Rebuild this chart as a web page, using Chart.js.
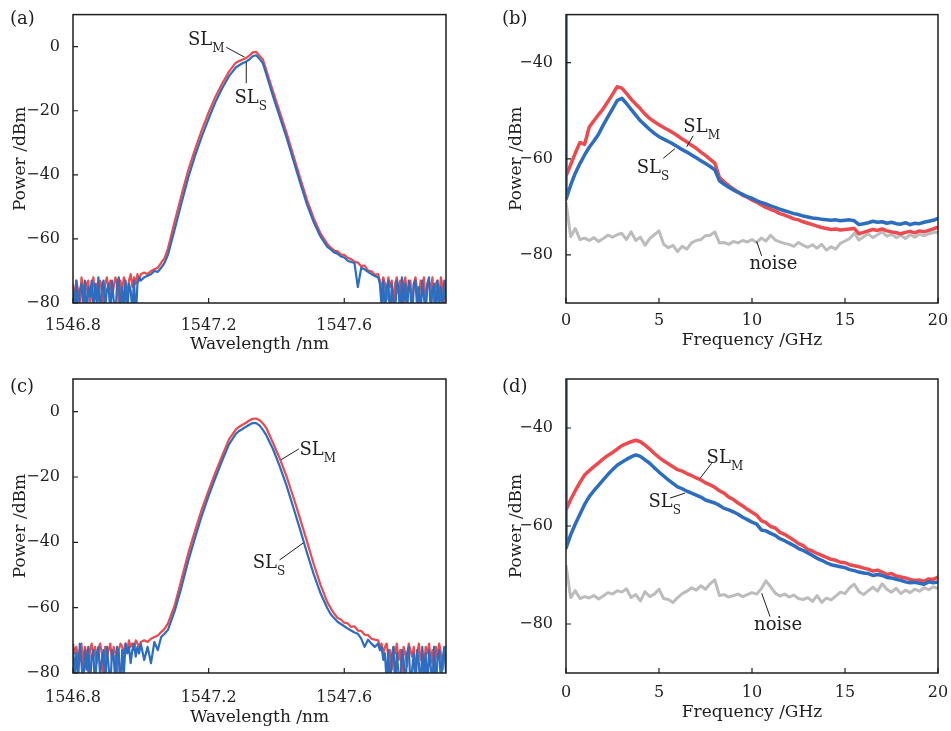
<!DOCTYPE html>
<html>
<head>
<meta charset="utf-8">
<script src="https://cdn.jsdelivr.net/npm/chart.js@4.4.1/dist/chart.umd.min.js"></script>
<style>
body { margin: 0; background: #fff; }
#wrap { position: relative; width: 951px; height: 731px; }
canvas { position: absolute; }
</style>
</head>
<body>
<div id="wrap">
<canvas id="pa" width="470" height="360" style="left:0;top:0"></canvas>
<canvas id="pb" width="481" height="360" style="left:470px;top:0"></canvas>
<canvas id="pc" width="470" height="371" style="left:0;top:360px"></canvas>
<canvas id="pd" width="481" height="371" style="left:470px;top:360px"></canvas>
</div>
<script>
// sampling grids
var wlSegments = [
    [1546.800, 1546.995, 0.005],
    [1547.00, 1547.08, 0.01],
    [1547.10, 1547.28, 0.02],
    [1547.29, 1547.37, 0.01],
    [1547.39, 1547.55, 0.02],
    [1547.56, 1547.69, 0.01],
    [1547.700, 1547.900, 0.005]
];
var freqSegments = [[0, 20, 0.25]];

// tick labels
var wlTicks = [1546.8, 1547.2, 1547.6];
var optPowerTicks = [-80, -60, -40, -20, 0];
var freqTicks = [0, 5, 10, 15, 20];
var rfPowerTicks = [-80, -60, -40];

// (a) optical spectra, one value per wavelength grid point
var redA = [
    -74,-79,-73,-76,-81,-72,-75,-78,-74,-73, -80,-76,-72,-77,-74,-79,-73,-75,-82,-74,
    -72,-76,-73,-78,-75,-72,-74,-80,-73,-76, -72,-74,-77,-73,-71,-75,-72,-74,-71,-73,
    -71,-70.5,-71,-70,-69.5,-69,-67.5,-66,-63,
    -54.5,-46.3,-38.5,-32,-26,-20.5,-15.6,-11.5,-7.8,-5,
    -4.5,-4.0,-3.6,-2.8,-1.8,-1.6,-2.8,-4.0,-7.3,
    -14,-20.5,-27,-34,-41,-47.8,-53.6,-58.3,-61.6,
    -62.7,-63.6,-63.9,-64.9,-65.0,-65.9,-66.3,-67.1,-67.4,-68.5,-68.3,-69.9,-70.1,-71.2,
    -71,-73,-76,-72,-74,-79,-72,-75,-73,-81, -74,-72,-77,-73,-80,-74,-72,-78,-75,-73,
    -82,-74,-72,-76,-79,-73,-75,-72,-80,-74, -73,-77,-72,-81,-74,-73,-78,-72,-75,-80, -73
];
var blueA = [
    -75,-82,-73,-84,-76,-74,-81,-73,-85,-75, -78,-73,-83,-74,-80,-72,-86,-75,-73,-82,
    -76,-74,-84,-73,-79,-85,-74,-72,-83,-75, -81,-73,-84,-74,-76,-82,-73,-85,-74,-72,
    -73,-72,-71.5,-71,-70,-70.3,-69,-67.5,-65,
    -57,-48.8,-40.8,-34,-28,-22.5,-17.3,-13,-9.2,-6.5,
    -5.8,-5.2,-4.7,-4.0,-3.0,-2.7,-3.8,-5.2,-8.6,
    -15.5,-22,-28.5,-35.5,-42.5,-49.2,-54.8,-59.3,-62.5,
    -63.3,-64.2,-64.6,-65.5,-65.8,-66.8,-67.2,-67.5,-75,-69,-69.5,-70.3,-71,-71.6,
    -72,-74,-81,-73,-84,-75,-73,-86,-74,-79, -83,-73,-75,-85,-72,-80,-74,-84,-73,-76,
    -86,-74,-73,-82,-75,-85,-73,-78,-84,-74, -72,-83,-76,-74,-86,-73,-80,-75,-84,-73, -79
];

// (c) optical spectra
var redC = [
    -71,-74,-72,-76,-73,-71,-78,-72,-74,-80, -73,-71,-75,-72,-77,-73,-71,-74,-81,-72,
    -75,-73,-71,-76,-72,-74,-80,-73,-71,-72, -74,-71,-73,-70,-72,-71,-73,-70,-71,-72,
    -70.5,-70,-70.5,-69.5,-69,-68.5,-67.5,-66.5,-64.8,
    -59.2,-51.3,-43.3,-36.4,-29.8,-24.1,-18.6,-13.5,-8.5,-5.5,
    -4.6,-4.0,-3.4,-2.7,-2.2,-2.1,-2.6,-3.6,-5.0,
    -9.6,-14.4,-19.9,-26.2,-32.9,-39.7,-46.7,-53,-58.3,
    -60.2,-61.8,-63.1,-63.6,-64.6,-64.8,-65.9,-65.7,-67.0,-67.1,-68.3,-68.4,-69.5,-69.8,
    -70,-72,-71,-74,-72,-71,-75,-73,-79,-72, -74,-71,-76,-73,-80,-72,-74,-78,-71,-73,
    -75,-72,-80,-74,-71,-76,-73,-79,-72,-74, -71,-77,-73,-81,-72,-75,-71,-74,-79,-73, -72
];
var blueC = [
    -72,-80,-74,-83,-71,-77,-85,-73,-79,-72, -84,-75,-73,-86,-74,-72,-81,-76,-73,-84,
    -72,-78,-85,-73,-75,-83,-72,-74,-86,-73, -80,-71,-74,-72,-77,-73,-71,-75,-72,-74,
    -71,-76,-72,-77,-70.5,-73,-69,-68,-66.8,
    -61,-53.7,-45.6,-38.6,-31.8,-25.8,-20.3,-15,-10,-6.8,
    -5.9,-5.3,-4.6,-4.0,-3.5,-3.5,-4.2,-5.6,-7.2,
    -11.5,-16.8,-22.7,-29.4,-36.2,-43.2,-49.8,-55.6,-60.2,
    -62,-63.2,-64.3,-65,-65.7,-66.4,-67,-67.6,-68,-69.5,-72,-69.8,-71,-72,
    -71,-73,-72,-76,-74,-83,-73,-86,-75,-72, -84,-74,-80,-85,-73,-76,-86,-74,-72,-83,
    -79,-74,-85,-73,-77,-86,-72,-81,-74,-85, -73,-78,-84,-72,-86,-75,-73,-83,-76,-72, -80
];

// (b) RF spectra, one value per 0.25 GHz
var redB = [
    -63.6,-61.2,-58.8,-56.6, -57.0,-53.4,-52.1,-50.8, -49.6,-48.1,-46.6,-45.0,
    -45.3,-46.4,-47.6,-48.6, -49.6,-50.7,-51.6,-52.3, -52.9,-53.5,-54.0,-54.6,
    -55.2,-55.9,-56.5,-57.2, -57.8,-58.6,-59.3,-60.1, -60.9,-63.9,-64.8,-65.6,
    -66.3,-66.9,-67.6,-68.0, -68.6,-69.0,-69.6,-70.1, -70.5,-70.9,-71.4,-71.7,
    -72.1,-72.5,-72.7,-73.1, -73.4,-73.7,-74.0,-74.3, -74.5,-74.7,-74.6,-74.8,
    -74.7,-74.6,-74.5,-75.6, -75.3,-75.0,-74.7,-74.9, -74.6,-75.0,-75.2,-75.4,
    -75.6,-75.3,-75.1,-75.4, -75.0,-75.2,-74.9,-74.6, -74.2
];
var blueB = [
    -68.4,-65.5,-63.0,-61.0, -59.2,-57.6,-56.3,-54.9, -53.0,-51.3,-49.6,-47.9,
    -47.4,-48.5,-49.7,-50.9, -52.1,-53.0,-53.9,-54.7, -55.4,-55.9,-56.4,-56.9,
    -57.5,-58.1,-58.6,-59.2, -59.8,-60.4,-61.0,-61.6, -62.3,-64.6,-65.3,-65.9,
    -66.5,-67.0,-67.4,-67.9, -68.2,-68.7,-69.1,-69.4, -69.8,-70.1,-70.5,-70.8,
    -71.1,-71.4,-71.6,-71.9, -72.1,-72.3,-72.4,-72.6, -72.7,-72.8,-72.7,-72.9,
    -72.8,-72.7,-72.9,-73.7, -73.5,-73.3,-73.0,-73.2, -73.1,-73.4,-73.2,-73.5,
    -73.6,-73.3,-73.7,-73.4, -73.5,-73.2,-73.0,-72.8, -72.4
];
var greyB = [
    -69.0,-76.2,-74.5,-76.8, -76.5,-77.0,-76.4,-77.2, -76.6,-75.9,-76.3,-75.8,
    -75.5,-76.8,-75.2,-77.0, -76.3,-78.0,-76.6,-75.8, -75.0,-77.8,-78.5,-78.0,
    -79.3,-78.2,-78.8,-77.5, -77.0,-76.8,-76.0,-75.9, -75.2,-77.5,-77.4,-77.8,
    -77.2,-77.5,-77.0,-77.3, -76.8,-77.4,-76.5,-77.1, -75.9,-76.9,-77.3,-77.6,
    -77.8,-78.2,-77.4,-78.0, -78.4,-77.9,-78.6,-77.8, -79.0,-78.3,-78.8,-77.6,
    -77.1,-76.6,-75.5,-76.9, -76.2,-75.6,-76.4,-75.8, -75.2,-76.1,-75.7,-76.4,
    -75.9,-76.6,-75.8,-76.3, -75.7,-76.0,-75.6,-75.4, -75.3
];
var dcSpikeB = -29;

// (d) RF spectra
var redD = [
    -56.7,-54.6,-52.8,-51.1, -49.6,-48.7,-47.9,-47.1, -46.3,-45.6,-45.0,-44.3,
    -43.6,-43.2,-42.8,-42.5, -42.8,-43.5,-44.3,-45.2, -46.0,-46.7,-47.3,-47.9,
    -48.5,-48.8,-49.3,-49.7, -50.2,-50.6,-51.2,-51.6, -52.1,-52.8,-53.3,-54.1,
    -54.6,-55.3,-55.9,-56.6, -57.2,-57.8,-58.9,-59.3, -60.1,-60.4,-61.3,-61.7,
    -62.3,-62.9,-63.6,-64.0, -64.8,-65.1,-65.6,-66.0, -66.4,-66.8,-67.0,-67.4,
    -67.5,-67.9,-68.1,-68.3, -68.6,-68.8,-69.2,-69.0, -69.4,-69.9,-69.7,-70.2,
    -70.4,-70.6,-70.9,-71.1, -71.0,-71.3,-70.8,-70.9, -70.4
];
var blueD = [
    -64.5,-61.8,-59.6,-57.6, -55.6,-54.0,-52.8,-51.7, -50.6,-49.5,-48.5,-47.6,
    -47.0,-46.4,-45.9,-45.5, -45.8,-46.5,-47.2,-48.1, -49.0,-49.8,-50.6,-51.3,
    -52.0,-52.4,-52.9,-53.3, -53.7,-54.1,-54.7,-55.0, -55.3,-55.8,-56.4,-56.7,
    -57.1,-57.6,-58.2,-58.7, -59.2,-59.6,-60.8,-61.0, -61.5,-61.9,-62.6,-63.0,
    -63.5,-64.0,-64.6,-65.0, -65.5,-66.0,-66.6,-67.0, -67.5,-67.9,-68.1,-68.3,
    -68.5,-68.9,-69.1,-69.4, -69.6,-69.7,-70.1,-69.9, -70.1,-70.5,-70.6,-70.9,
    -71.1,-71.4,-71.6,-71.5, -71.7,-71.9,-71.4,-71.6, -71.4
];
var greyD = [
    -68.0,-74.6,-73.2,-74.8, -74.4,-74.7,-74.2,-74.9, -74.3,-73.6,-73.9,-73.2,
    -73.5,-72.8,-74.6,-74.0, -75.3,-73.4,-74.4,-73.9, -72.9,-74.8,-75.0,-75.6,
    -74.6,-73.8,-73.3,-72.6, -73.1,-72.2,-72.9,-71.8, -71.0,-74.2,-74.0,-74.5,
    -74.2,-73.9,-74.4,-74.0, -73.6,-73.9,-72.8,-71.2, -72.4,-73.7,-74.3,-73.9,
    -74.5,-74.1,-74.8,-75.0, -74.6,-75.4,-74.2,-75.6, -74.7,-75.1,-74.3,-73.5,
    -73.8,-72.6,-71.9,-73.4, -74.0,-73.2,-72.5,-73.3, -71.8,-72.9,-73.5,-72.7,
    -73.8,-73.1,-73.6,-72.9, -73.3,-72.6,-73.0,-72.4, -72.8
];
var dcSpikeD = -29;

// curve labels, in data units: text anchor and leader line
var notes = {
    pa: [
        {text: 'SL', sub: 'M', x: 1547.139, y: 0.5, line: [1547.252, -0.2, 1547.306, -3.3]},
        {text: 'SL', sub: 'S', x: 1547.276, y: -17.5, line: [1547.311, -4.8, 1547.311, -11.4]}
    ],
    pb: [
        {text: 'SL', sub: 'M', x: 6.31, y: -54.5, line: [6.84, -55.2, 6.49, -57.5]},
        {text: 'SL', sub: 'S', x: 3.80, y: -62.9, line: [5.23, -59.9, 5.86, -57.9]},
        {text: 'noise', sub: '', x: 9.86, y: -82.9, line: [10.25, -77.2, 10.52, -80.2]}
    ],
    pc: [
        {text: 'SL', sub: 'M', x: 1547.468, y: -13.2, line: [1547.414, -14.7, 1547.466, -11.4]},
        {text: 'SL', sub: 'S', x: 1547.330, y: -47.9, line: [1547.409, -45.4, 1547.479, -40.2]}
    ],
    pd: [
        {text: 'SL', sub: 'M', x: 7.56, y: -47.2, line: [7.83, -47.2, 7.20, -50.3]},
        {text: 'SL', sub: 'S', x: 4.43, y: -56.1, line: [5.59, -54.3, 6.40, -53.3]},
        {text: 'noise', sub: '', x: 10.11, y: -81.2, line: [10.52, -73.7, 10.97, -78.5]}
    ]
};
var panelLetters = {pa: ['(a)', 10, 24], pb: ['(b)', 32, 24], pc: ['(c)', 10, 32], pd: ['(d)', 32, 32]};

var RED = '#ec4a4e', BLUE = '#2c6dbf', GREY = '#bcbcbc', INK = '#1e1e1e';
var SERIF = '"DejaVu Serif", serif';

function buildGrid(segs) {
    var out = [];
    for (var s = 0; s < segs.length; s++) {
        var n = Math.round((segs[s][1] - segs[s][0]) / segs[s][2]);
        for (var i = 0; i <= n; i++) out.push(+(segs[s][0] + i * segs[s][2]).toFixed(3));
    }
    return out;
}

function pairs(xs, ys) {
    if (xs.length !== ys.length) console.log('length mismatch', xs.length, ys.length);
    return ys.map(function (v, i) { return {x: xs[i], y: v}; });
}

var wlGrid = buildGrid(wlSegments);
var freqGrid = buildGrid(freqSegments);

var framePlugin = {
    id: 'frame',
    afterDraw: function (chart) {
        var ctx = chart.ctx, a = chart.chartArea;
        var sx = chart.scales.x, sy = chart.scales.y;
        ctx.save();
        ctx.strokeStyle = INK;
        ctx.lineWidth = 1.5;
        ctx.strokeRect(a.left, a.top, a.right - a.left, a.bottom - a.top);
        // inward tick marks
        ctx.lineWidth = 1.2;
        ctx.beginPath();
        sx.ticks.forEach(function (t) {
            var p = sx.getPixelForValue(t.value);
            ctx.moveTo(p, a.bottom); ctx.lineTo(p, a.bottom - 5);
        });
        sy.ticks.forEach(function (t) {
            var p = sy.getPixelForValue(t.value);
            ctx.moveTo(a.left, p); ctx.lineTo(a.left + 5, p);
        });
        ctx.stroke();

        // curve labels
        var list = notes[chart.canvas.id] || [];
        ctx.fillStyle = INK;
        ctx.lineWidth = 1;
        list.forEach(function (n) {
            var l = n.line;
            ctx.beginPath();
            ctx.moveTo(sx.getPixelForValue(l[0]), sy.getPixelForValue(l[1]));
            ctx.lineTo(sx.getPixelForValue(l[2]), sy.getPixelForValue(l[3]));
            ctx.stroke();
            var px = sx.getPixelForValue(n.x), py = sy.getPixelForValue(n.y);
            ctx.font = '18px ' + SERIF;
            ctx.textAlign = 'left';
            ctx.textBaseline = 'alphabetic';
            ctx.fillText(n.text, px, py);
            if (n.sub) {
                var w = ctx.measureText(n.text).width;
                ctx.font = '12px ' + SERIF;
                ctx.fillText(n.sub, px + w, py + 7);
            }
        });

        var pl = panelLetters[chart.canvas.id];
        ctx.font = '18px ' + SERIF;
        ctx.fillText(pl[0], pl[1], pl[2]);
        ctx.restore();
    }
};

function minusSign(s) { return s.replace('-', '\u2212'); }

function makeChart(id, cfg) {
    var datasets = cfg.series.map(function (s) {
        return {
            data: s.data,
            borderColor: s.color,
            borderWidth: s.width,
            pointRadius: 0,
            fill: false,
            tension: 0,
            borderJoinStyle: 'round'
        };
    });
    return new Chart(document.getElementById(id).getContext('2d'), {
        type: 'line',
        data: {datasets: datasets},
        plugins: [framePlugin],
        options: {
            responsive: false,
            animation: false,
            devicePixelRatio: 1,
            layout: {padding: {top: cfg.padTop, right: cfg.padRight, left: 0, bottom: 0}},
            plugins: {legend: {display: false}, tooltip: {enabled: false}},
            scales: {
                x: {
                    type: 'linear',
                    min: cfg.xMin, max: cfg.xMax,
                    grid: {display: false},
                    border: {display: false},
                    afterBuildTicks: function (s) { s.ticks = cfg.xTicks.map(function (v) { return {value: v}; }); },
                    afterFit: function (s) { s.height = cfg.bottomHeight; },
                    ticks: {
                        color: INK, padding: cfg.xTickPad, maxRotation: 0, autoSkip: false,
                        font: {family: SERIF, size: 16},
                        callback: function (v) { return minusSign(cfg.xDec ? v.toFixed(cfg.xDec) : String(v)); }
                    },
                    title: {display: true, text: cfg.xTitle, color: INK,
                        font: {family: SERIF, size: 17}, padding: {top: 0, bottom: cfg.xTitlePad}}
                },
                y: {
                    type: 'linear',
                    min: cfg.yMin, max: cfg.yMax,
                    grid: {display: false},
                    border: {display: false},
                    afterBuildTicks: function (s) { s.ticks = cfg.yTicks.map(function (v) { return {value: v}; }); },
                    afterFit: function (s) { s.width = cfg.leftWidth; },
                    ticks: {
                        color: INK, padding: 5, autoSkip: false,
                        font: {family: SERIF, size: 16},
                        callback: function (v) { return minusSign(String(v)); }
                    },
                    title: {display: true, text: 'Power /dBm', color: INK,
                        font: {family: SERIF, size: 17}, padding: {top: cfg.yTitlePad, bottom: 0}}
                }
            }
        }
    });
}

var optBase = {xMin: 1546.8, xMax: 1547.9, yMin: -80, yMax: 10, xTicks: wlTicks, yTicks: optPowerTicks,
    xDec: 1, xTitle: 'Wavelength /nm', leftWidth: 73, padRight: 24, yTitlePad: 10};
var rfBase = {xMin: 0, xMax: 20, yMin: -90, yMax: -30, xTicks: freqTicks, yTicks: rfPowerTicks,
    xDec: 0, xTitle: 'Frequency /GHz', leftWidth: 96, padRight: 13, yTitlePad: 36};

function withBase(base, extra) {
    var o = {};
    for (var k in base) o[k] = base[k];
    for (var k2 in extra) o[k2] = extra[k2];
    return o;
}

makeChart('pa', withBase(optBase, {
    padTop: 8, bottomHeight: 57, xTickPad: 5, xTitlePad: 5,
    series: [
        {data: pairs(wlGrid, blueA), color: BLUE, width: 2.2},
        {data: pairs(wlGrid, redA), color: RED, width: 2.2}
    ]
}));

makeChart('pc', withBase(optBase, {
    padTop: 19, bottomHeight: 58, xTickPad: 7, xTitlePad: 3,
    series: [
        {data: pairs(wlGrid, blueC), color: BLUE, width: 2.2},
        {data: pairs(wlGrid, redC), color: RED, width: 2.2}
    ]
}));

makeChart('pb', withBase(rfBase, {
    padTop: 9, bottomHeight: 57, xTickPad: 0, xTitlePad: 9,
    series: [
        {data: [{x: 0, y: dcSpikeB}].concat(pairs(freqGrid, blueB)), color: BLUE, width: 3.5},
        {data: pairs(freqGrid, redB), color: RED, width: 3.5},
        {data: pairs(freqGrid, greyB), color: GREY, width: 3}
    ]
}));

makeChart('pd', withBase(rfBase, {
    padTop: 19, bottomHeight: 58, xTickPad: 2, xTitlePad: 8,
    series: [
        {data: [{x: 0, y: dcSpikeD}].concat(pairs(freqGrid, blueD)), color: BLUE, width: 3.5},
        {data: pairs(freqGrid, redD), color: RED, width: 3.5},
        {data: pairs(freqGrid, greyD), color: GREY, width: 3}
    ]
}));
</script>
</body>
</html>
